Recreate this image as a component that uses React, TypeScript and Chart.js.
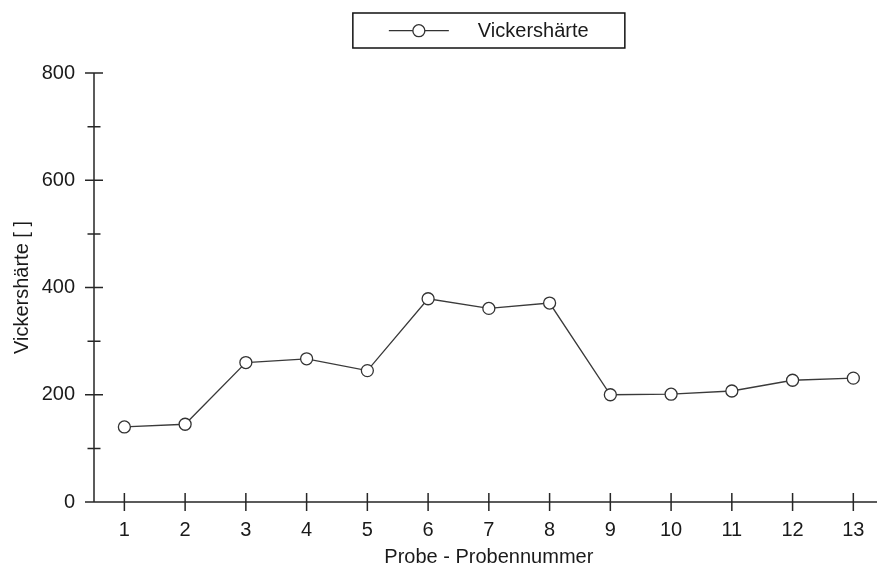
import React, { useEffect, useRef } from 'react';
import { Chart, registerables } from 'chart.js';

Chart.register(...registerables);

const categories = ['1', '2', '3', '4', '5', '6', '7', '8', '9', '10', '11', '12', '13'];
const hardness = [140, 145, 260, 267, 245, 379, 361, 371, 200, 201, 207, 227, 231];
const yMajorTicks = [0, 200, 400, 600, 800];
const yMinorTicks = [100, 300, 500, 700];
const seriesLabel = 'Vickershärte';
const xTitle = 'Probe - Probennummer';
const yTitle = 'Vickershärte [ ]';

const CANVAS_W = 891;
const CANVAS_H = 565;
const FONT = '"Liberation Sans", Arial, Helvetica, sans-serif';
const INK = '#1a1a1a';
const FS = 20;

const axesPlugin = {
  id: 'crossAxes',
  beforeDatasetsDraw(chart: any) {
    const { ctx, chartArea, scales } = chart;
    const xs = scales.x;
    const ys = scales.y;
    const x0 = chartArea.left;
    const yTop = ys.getPixelForValue(yMajorTicks[yMajorTicks.length - 1]);
    const yBot = ys.getPixelForValue(yMajorTicks[0]);
    ctx.save();
    ctx.strokeStyle = '#262626';
    ctx.lineWidth = 1.5;
    ctx.beginPath();
    ctx.moveTo(x0, yTop);
    ctx.lineTo(x0, yBot);
    ctx.moveTo(x0, yBot);
    ctx.lineTo(chart.width, yBot);
    yMajorTicks.forEach((v) => {
      const py = ys.getPixelForValue(v);
      ctx.moveTo(x0 - 9, py);
      ctx.lineTo(x0 + 9, py);
    });
    yMinorTicks.forEach((v) => {
      const py = ys.getPixelForValue(v);
      ctx.moveTo(x0 - 6.5, py);
      ctx.lineTo(x0 + 6.5, py);
    });
    categories.forEach((_, i) => {
      const px = xs.getPixelForValue(i);
      ctx.moveTo(px, yBot - 9);
      ctx.lineTo(px, yBot + 9);
    });
    ctx.stroke();
    ctx.restore();
  },
};

const legendPlugin = {
  id: 'boxLegend',
  afterDraw(chart: any) {
    const { ctx, scales } = chart;
    const xs = scales.x;
    const cx = xs.getPixelForValue(Math.floor(categories.length / 2));
    const w = 272;
    const h = 35;
    const left = cx - w / 2;
    const top = 13;
    const my = top + 17.7;
    ctx.save();
    ctx.strokeStyle = '#111';
    ctx.lineWidth = 1.5;
    ctx.strokeRect(left, top, w, h);
    ctx.strokeStyle = '#333';
    ctx.lineWidth = 1.3;
    ctx.beginPath();
    ctx.moveTo(left + 36, my);
    ctx.lineTo(left + 96, my);
    ctx.stroke();
    ctx.beginPath();
    ctx.arc(left + 66, my, 6, 0, Math.PI * 2);
    ctx.fillStyle = '#fff';
    ctx.fill();
    ctx.stroke();
    ctx.fillStyle = INK;
    ctx.font = `${FS}px ${FONT}`;
    ctx.textBaseline = 'middle';
    ctx.textAlign = 'left';
    ctx.fillText(chart.data.datasets[0].label, left + 125, my + 1);
    ctx.restore();
  },
};

export default function App() {
  const ref = useRef<HTMLCanvasElement | null>(null);

  useEffect(() => {
    document.body.style.margin = '0';
    const canvas = ref.current;
    if (!canvas) return;
    const chart = new Chart(canvas, {
      type: 'line',
      data: {
        labels: categories,
        datasets: [
          {
            label: seriesLabel,
            data: hardness,
            borderColor: '#3a3a3a',
            borderWidth: 1.3,
            pointRadius: 6,
            pointHoverRadius: 6,
            pointBorderWidth: 1.3,
            pointBorderColor: '#333',
            pointBackgroundColor: '#fff',
            tension: 0,
          },
        ],
      },
      options: {
        responsive: false,
        animation: false,
        events: [],
        layout: { padding: { top: 73, left: 0, right: 1, bottom: 0 } },
        plugins: {
          legend: { display: false },
          tooltip: { enabled: false },
        },
        scales: {
          x: {
            type: 'category',
            offset: true,
            grid: { display: false, drawTicks: false },
            border: { display: false },
            ticks: {
              color: INK,
              font: { family: FONT, size: FS },
              padding: 16,
              maxRotation: 0,
              autoSkip: false,
            },
            title: {
              display: true,
              text: xTitle,
              color: INK,
              font: { family: FONT, size: FS },
              padding: { top: 0, bottom: -4 },
            },
            afterFit(scale: any) {
              scale.height = 63;
            },
          },
          y: {
            type: 'linear',
            min: 0,
            max: 800,
            grid: { display: false, drawTicks: false },
            border: { display: false },
            ticks: {
              stepSize: 200,
              color: INK,
              font: { family: FONT, size: FS },
              padding: 19,
            },
            title: {
              display: true,
              text: yTitle,
              color: INK,
              font: { family: FONT, size: FS },
              padding: { top: 10, bottom: 0 },
            },
            afterFit(scale: any) {
              scale.width = 94;
            },
          },
        },
      },
      plugins: [axesPlugin, legendPlugin],
    });
    return () => chart.destroy();
  }, []);

  return (
    <div style={{ width: 877, height: 565, overflow: 'hidden', position: 'relative', background: '#fff' }}>
      <canvas ref={ref} width={CANVAS_W} height={CANVAS_H} style={{ display: 'block' }} />
    </div>
  );
}
